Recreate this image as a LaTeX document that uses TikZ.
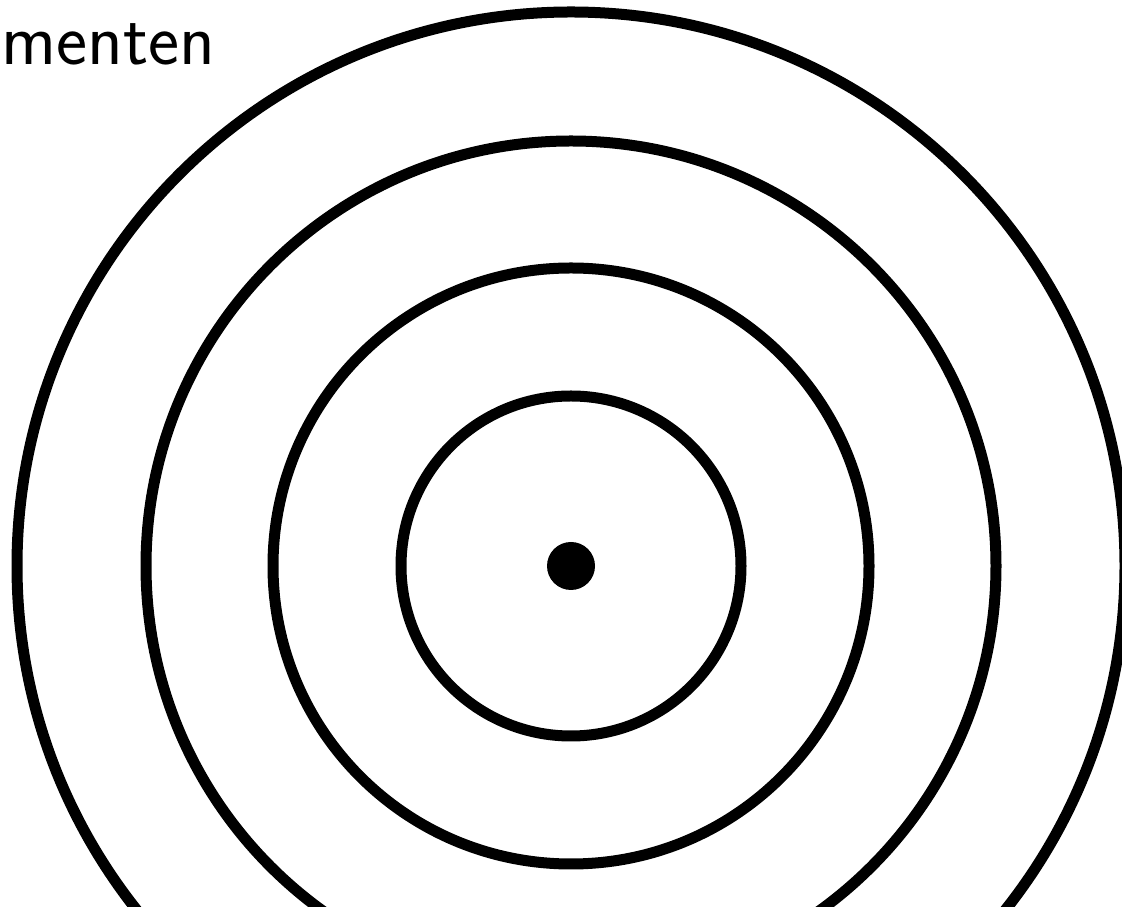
\documentclass[tikz,border=0pt]{standalone}
\usepackage{fontspec}
\begin{document}
\begin{tikzpicture}[x=1pt,y=1pt,
  ring/.style={draw=black,line width=11pt},
  lbl/.style={font=\sffamily\fontsize{74}{74}\selectfont,inner sep=0pt,anchor=base west}]
\useasboundingbox (0,0) rectangle (1122,907);
\clip (0,0) rectangle (1122,907);
\coordinate (c) at (571,341);
\draw[ring] (c) circle[radius=170];
\draw[ring] (c) circle[radius=298];
\draw[ring] (c) circle[radius=425];
\draw[ring] (c) circle[radius=554];
\node[circle,fill=black,minimum size=48pt,inner sep=0pt] (dot) at (c) {};
\node[lbl] (t) at (1,842) {menten};
\end{tikzpicture}
\end{document}
